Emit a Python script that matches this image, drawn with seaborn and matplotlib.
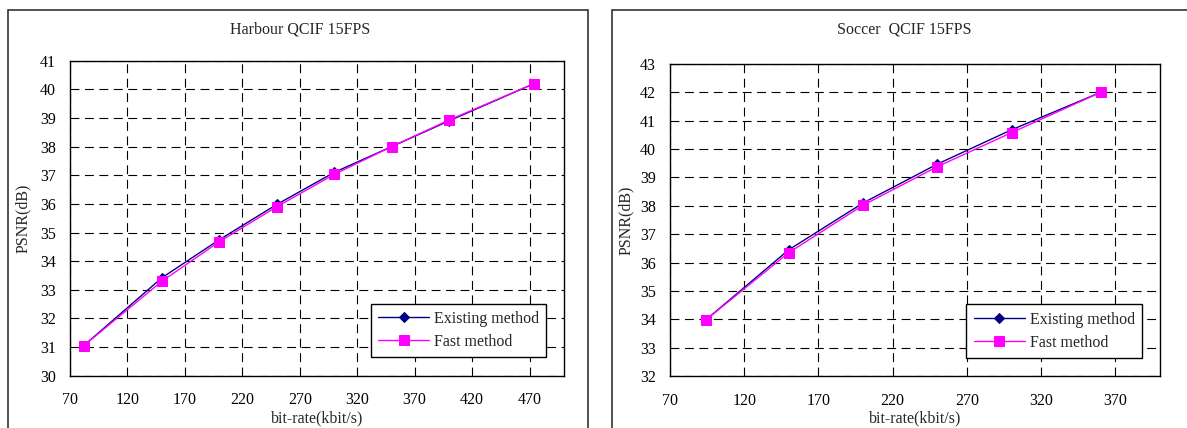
import pandas as pd
import matplotlib.pyplot as plt
import seaborn as sns
from matplotlib.patches import Rectangle

# --- data ---
harbour_rate = [82, 150, 200, 250, 300, 350, 400, 474]
harbour_existing = [31.05, 33.42, 34.75, 35.98, 37.10, 38.00, 38.90, 40.20]
harbour_fast = [31.05, 33.30, 34.68, 35.90, 37.03, 38.00, 38.93, 40.20]

soccer_rate = [94, 150, 200, 250, 300, 360]
soccer_existing = [33.97, 36.45, 38.10, 39.47, 40.68, 42.00]
soccer_fast = [33.97, 36.35, 38.02, 39.38, 40.58, 42.00]

methods = ["Existing method", "Fast method"]
colors = {"Existing method": "#000080", "Fast method": "#FF00FF"}
markers = {"Existing method": "D", "Fast method": "s"}

sns.set_style("white")
plt.rcParams['font.family'] = ['Liberation Serif', 'DejaVu Serif']
FS = 11.5


def to_long(rate, existing, fast):
    return pd.DataFrame({
        "rate": rate * 2,
        "psnr": existing + fast,
        "method": [methods[0]] * len(rate) + [methods[1]] * len(rate),
    })


fig = plt.figure(figsize=(11.87, 4.28), dpi=100)

# outer chart-area boxes
fig.add_artist(Rectangle((8 / 1187, -0.01), 580 / 1187, (428 - 10) / 428 + 0.01,
                         transform=fig.transFigure, fill=False, ec="#333333", lw=1.2))
fig.add_artist(Rectangle((612 / 1187, -0.01), 580 / 1187, (428 - 10) / 428 + 0.01,
                         transform=fig.transFigure, fill=False, ec="#333333", lw=1.2))

panels = [
    dict(title="Harbour QCIF 15FPS", df=to_long(harbour_rate, harbour_existing, harbour_fast),
         rect=[70 / 1187, 52.3 / 428, 494 / 1187, 315 / 428],
         xlim=(70, 500), xticks=range(70, 471, 50), ylim=(30, 41),
         leg=(0.964, 0.059), title_x=300 / 1187, ylab_x=23 / 1187),
    dict(title="Soccer  QCIF 15FPS", df=to_long(soccer_rate, soccer_existing, soccer_fast),
         rect=[670 / 1187, 52 / 428, 490 / 1187, 312 / 428],
         xlim=(70, 400), xticks=range(70, 371, 50), ylim=(32, 43),
         leg=(0.963, 0.058), title_x=904 / 1187, ylab_x=626 / 1187),
]

for p in panels:
    ax = fig.add_axes(p["rect"])
    for m in methods:
        sub = p["df"][p["df"]["method"] == m]
        sns.lineplot(data=sub, x="rate", y="psnr", ax=ax, color=colors[m],
                     marker=markers[m], markersize=6.5 if m == methods[1] else 5.5,
                     markeredgecolor=colors[m], lw=1, label=m)
    ax.set_xlim(*p["xlim"])
    ax.set_ylim(*p["ylim"])
    ax.set_xticks(list(p["xticks"]))
    ax.set_yticks(range(p["ylim"][0], p["ylim"][1] + 1))
    ax.grid(True, color="black", linestyle=(0, (8, 5)), lw=0.8)
    for s in ax.spines.values():
        s.set_color("black")
        s.set_linewidth(1)
    ax.tick_params(axis="both", labelsize=FS, length=0, colors="black")
    ax.tick_params(axis="x", pad=12)
    ax.tick_params(axis="y", pad=10)
    ax.set_xlabel("")
    ax.set_ylabel("")
    fig.text(p["title_x"], 1 - 30 / 428, p["title"], ha="center", va="center", fontsize=FS)
    fig.text(p["rect"][0] + p["rect"][2] * 0.5, 1 - 418 / 428, "bit-rate(kbit/s)",
             ha="center", va="center", fontsize=FS)
    fig.text(p["ylab_x"], p["rect"][1] + p["rect"][3] / 2, "PSNR(dB)", rotation=90,
             ha="center", va="center", fontsize=FS)
    leg = ax.legend(loc="lower right", bbox_to_anchor=p["leg"], fontsize=FS,
                    frameon=True, fancybox=False, edgecolor="black", framealpha=1,
                    handlelength=3.2, handletextpad=0.3, borderpad=0.45, labelspacing=0.45,
                    borderaxespad=0)
    leg.get_frame().set_linewidth(1)

fig.savefig("out.png", dpi=100)
